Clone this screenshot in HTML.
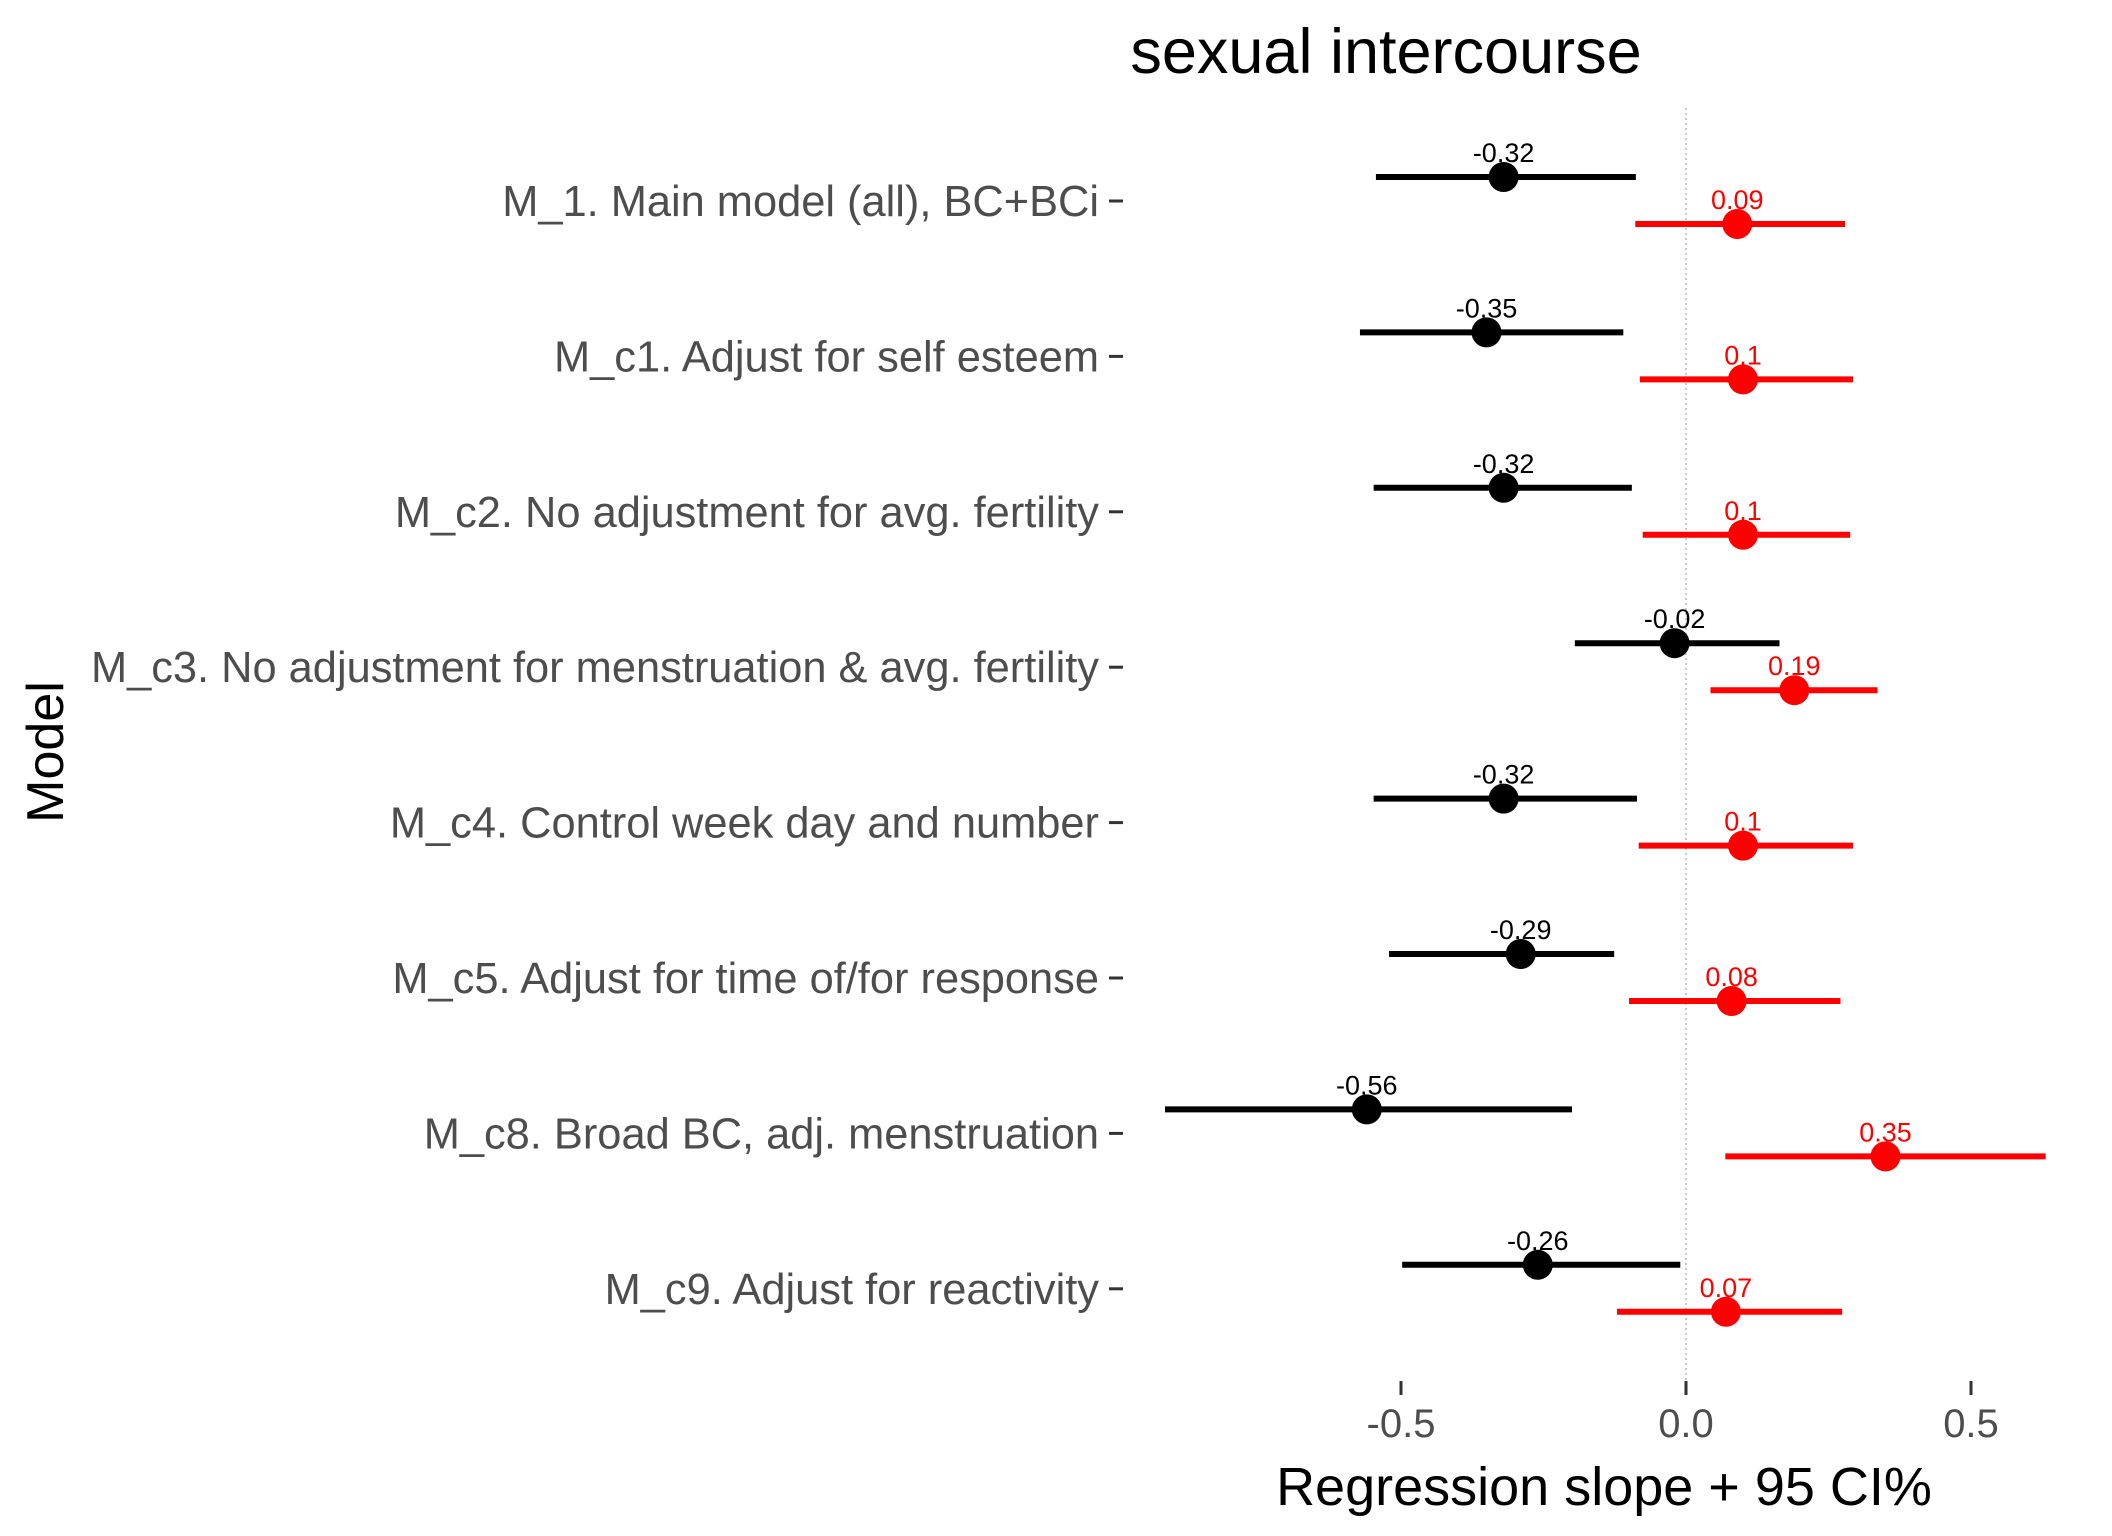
<!DOCTYPE html>
<html><head><meta charset="utf-8">
<style>
html,body{margin:0;padding:0;background:#fff;}
svg{display:block;font-family:"Liberation Sans",Arial,sans-serif;}
</style></head>
<body>
<svg id="chart" width="2112" height="1536" viewBox="0 0 2112 1536" xmlns="http://www.w3.org/2000/svg">
<text x="1386" y="73" font-size="63" text-anchor="middle" fill="#000">sexual intercourse</text>
<text transform="translate(63,752) rotate(-90)" font-size="52" text-anchor="middle" fill="#000">Model</text>
<text x="1604" y="1505" font-size="54" text-anchor="middle" fill="#000">Regression slope + 95 CI%</text>
<g id="plot"></g>
</svg>
<script>
const models = ["M_1. Main model (all), BC+BCi","M_c1. Adjust for self esteem","M_c2. No adjustment for avg. fertility","M_c3. No adjustment for menstruation & avg. fertility","M_c4. Control week day and number","M_c5. Adjust for time of/for response","M_c8. Broad BC, adj. menstruation","M_c9. Adjust for reactivity"];
const blackEst = [-0.32,-0.35,-0.32,-0.02,-0.32,-0.29,-0.56,-0.26];
const blackLo = [-0.544,-0.572,-0.548,-0.195,-0.548,-0.521,-0.914,-0.498];
const blackHi = [-0.088,-0.11,-0.095,0.164,-0.086,-0.126,-0.2,-0.01];
const redEst = [0.09,0.1,0.1,0.19,0.1,0.08,0.35,0.07];
const redLo = [-0.089,-0.081,-0.076,0.043,-0.083,-0.1,0.069,-0.121];
const redHi = [0.279,0.293,0.288,0.336,0.293,0.271,0.631,0.274];
const blackLabels = ["-0.32","-0.35","-0.32","-0.02","-0.32","-0.29","-0.56","-0.26"];
const redLabels = ["0.09","0.1","0.1","0.19","0.1","0.08","0.35","0.07"];
const xTicks = [-0.5,0,0.5];
const xTickLabels = ["-0.5","0.0","0.5"];

const NS="http://www.w3.org/2000/svg";
const g=document.getElementById('plot');
const xs=v=>1686+570*v;
const ys=i=>201+155.4*i;
function mk(tag,attrs){const e=document.createElementNS(NS,tag);for(const k in attrs)e.setAttribute(k,attrs[k]);g.appendChild(e);return e;}

const zl=mk('line',{x1:xs(0),x2:xs(0),y1:108,y2:1395,stroke:'#c8c8c8','stroke-width':2,'stroke-dasharray':'2,3'});



xTicks.forEach((t,k)=>{
  const tk=mk('line',{x1:xs(t),x2:xs(t),y1:1381,y2:1395,stroke:'#333','stroke-width':3});
  
  
  const tl=mk('text',{x:xs(t),y:1437,'font-size':40,'text-anchor':'middle',fill:'#4d4d4d'});
  tl.textContent=xTickLabels[k];
  
  
});

models.forEach((m,i)=>{
  const y=ys(i);
  const lab=mk('text',{x:1099,y:y+15,'font-size':43.4,'text-anchor':'end',fill:'#4d4d4d'});
  lab.textContent=m;
  
  
  const tk=mk('line',{x1:1109,x2:1123,y1:y,y2:y,stroke:'#333','stroke-width':3});
  
  
  [[blackEst,blackLo,blackHi,blackLabels,'#000',-24,'black'],[redEst,redLo,redHi,redLabels,'#ff0000',23,'red']].forEach(s=>{
    const yy=y+s[5];
    const ln=mk('line',{x1:xs(s[1][i]),x2:xs(s[2][i]),y1:yy,y2:yy,stroke:s[4],'stroke-width':6});
    
    
    const c=mk('circle',{cx:xs(s[0][i]),cy:yy,r:15,fill:s[4]});
    
    
    const t=mk('text',{x:xs(s[0][i]),y:yy-15,'font-size':27,'text-anchor':'middle',fill:s[4]});
    t.textContent=s[3][i];
    
    
  });
});
</script>
</body></html>
